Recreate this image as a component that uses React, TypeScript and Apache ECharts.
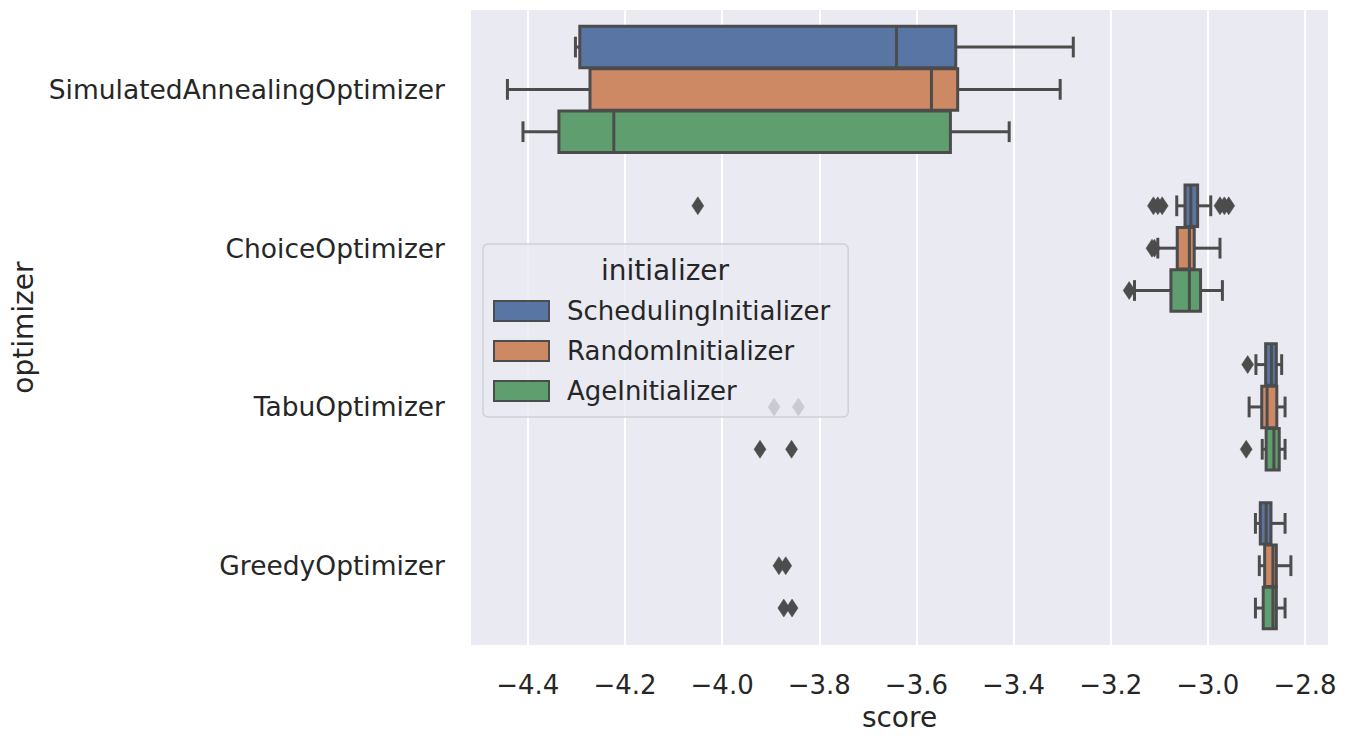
import React, { useEffect, useRef } from "react";
import * as echarts from "echarts";

const categories = ["SimulatedAnnealingOptimizer", "ChoiceOptimizer", "TabuOptimizer", "GreedyOptimizer"];
const hues = ["SchedulingInitializer", "RandomInitializer", "AgeInitializer"];
const hueColors = ["#5975a4", "#cc8963", "#5f9e6e"];
const xTicks = [-4.4, -4.2, -4.0, -3.8, -3.6, -3.4, -3.2, -3.0, -2.8];

// [low whisker, Q1, median, Q3, high whisker] per category
const schedulingBoxes = [
  [-4.302, -4.293, -3.641, -3.519, -3.277],
  [-3.064, -3.047, -3.035, -3.021, -2.994],
  [-2.901, -2.881, -2.869, -2.859, -2.848],
  [-2.902, -2.892, -2.880, -2.870, -2.841],
];
const randomBoxes = [
  [-4.442, -4.272, -3.569, -3.515, -3.304],
  [-3.103, -3.063, -3.038, -3.028, -2.975],
  [-2.915, -2.889, -2.878, -2.858, -2.841],
  [-2.894, -2.883, -2.866, -2.859, -2.829],
];
const ageBoxes = [
  [-4.410, -4.336, -4.223, -3.530, -3.409],
  [-3.151, -3.076, -3.038, -3.015, -2.970],
  [-2.888, -2.880, -2.864, -2.853, -2.841],
  [-2.902, -2.886, -2.866, -2.859, -2.841],
];

// outliers per category
const schedulingOutliers = [
  [],
  [-4.050, -3.112, -3.103, -3.094, -2.975, -2.966, -2.957],
  [-2.918],
  [],
];
const randomOutliers = [
  [],
  [-3.115, -3.110],
  [-3.893, -3.843],
  [-3.883, -3.869],
];
const ageOutliers = [
  [],
  [-3.162],
  [-3.922, -3.857, -2.921],
  [-3.873, -3.856],
];

const allBoxes = [schedulingBoxes, randomBoxes, ageBoxes];
const allOutliers = [schedulingOutliers, randomOutliers, ageOutliers];

const LINE = "#4c4c4c";
const TEXT = "#262626";
const FONT = "DejaVu Sans";

export default function App() {
  const ref = useRef<HTMLDivElement>(null);
  useEffect(() => {
    if (!ref.current) return;
    const chart = echarts.init(ref.current, null, { renderer: "svg" });

    const boxSeries = hues.map((name, h) => ({
      type: "custom",
      name,
      itemStyle: { color: hueColors[h], borderColor: LINE, borderWidth: 1.5 },
      encode: { x: [1, 2, 3, 4, 5], y: 0 },
      data: allBoxes[h].map((b, i) => [i, ...b]),
      z: 2,
      renderItem: (params: any, api: any) => {
        const cat = api.value(0);
        const low = api.value(1), q1 = api.value(2), med = api.value(3), q3 = api.value(4), high = api.value(5);
        const band = api.size([0, 1])[1];
        const slot = (band * 0.8) / 3;
        const bh = slot * 0.98;
        const cy = api.coord([q1, cat])[1] + (h - 1) * slot;
        const xl = api.coord([low, cat])[0];
        const x1 = api.coord([q1, cat])[0];
        const xm = api.coord([med, cat])[0];
        const x3 = api.coord([q3, cat])[0];
        const xh = api.coord([high, cat])[0];
        const cap = bh * 0.25;
        const ls = { stroke: LINE, lineWidth: 3 };
        return {
          type: "group",
          children: [
            { type: "line", shape: { x1: xl, y1: cy, x2: x1, y2: cy }, style: ls },
            { type: "line", shape: { x1: x3, y1: cy, x2: xh, y2: cy }, style: ls },
            { type: "line", shape: { x1: xl, y1: cy - cap, x2: xl, y2: cy + cap }, style: ls },
            { type: "line", shape: { x1: xh, y1: cy - cap, x2: xh, y2: cy + cap }, style: ls },
            {
              type: "rect",
              shape: { x: x1, y: cy - bh / 2, width: x3 - x1, height: bh },
              style: { fill: hueColors[h], stroke: LINE, lineWidth: 3 },
            },
            { type: "line", shape: { x1: xm, y1: cy - bh / 2, x2: xm, y2: cy + bh / 2 }, style: ls },
          ],
        };
      },
    }));

    const outlierSeries = hues.map((name, h) => ({
      type: "custom",
      name: name + " outliers",
      encode: { x: 1, y: 0 },
      data: allOutliers[h].flatMap((arr, i) => arr.map((v) => [i, v])),
      z: 3,
      renderItem: (params: any, api: any) => {
        const cat = api.value(0);
        const v = api.value(1);
        const band = api.size([0, 1])[1];
        const slot = (band * 0.8) / 3;
        const p = api.coord([v, cat]);
        const cx = p[0];
        const cy = p[1] + (h - 1) * slot;
        const w = 6, hh = 9;
        return {
          type: "polygon",
          shape: { points: [[cx, cy - hh], [cx + w, cy], [cx, cy + hh], [cx - w, cy]] },
          style: { fill: LINE, stroke: LINE, lineWidth: 0.5 },
        };
      },
    }));

    chart.setOption({
      animation: false,
      grid: {
        left: 471,
        right: 23,
        top: 10,
        bottom: 87,
        show: true,
        backgroundColor: "#eaeaf2",
        borderWidth: 0,
      },
      xAxis: {
        type: "value",
        min: -4.517,
        max: -2.7526,
        splitNumber: 8,
        axisLine: { show: false },
        axisTick: { show: false, customValues: xTicks },
        axisLabel: {
          customValues: xTicks,
          formatter: (v: number) => v.toFixed(1).replace("-", "\u2212"),
          fontSize: 26,
          color: TEXT,
          fontFamily: FONT,
          margin: 27,
        },
        splitLine: { show: true, lineStyle: { color: "#ffffff", width: 2 } },
        name: "score",
        nameLocation: "middle",
        nameGap: 57,
        nameTextStyle: { fontSize: 28, color: TEXT, fontFamily: FONT },
      },
      yAxis: {
        type: "category",
        data: categories,
        inverse: true,
        axisLine: { show: false },
        axisTick: { show: false },
        splitLine: { show: false },
        axisLabel: { fontSize: 26.5, color: TEXT, fontFamily: FONT, margin: 26 },
        name: "optimizer",
        nameLocation: "middle",
        nameGap: 433,
        nameRotate: 90,
        nameTextStyle: { fontSize: 28, color: TEXT, fontFamily: FONT },
      },
      legend: {
        data: hues,
        orient: "vertical",
        left: 483,
        top: 244,
        padding: [54, 18, 13, 10],
        itemWidth: 55,
        itemHeight: 20,
        itemGap: 14,
        icon: "rect",
        selectedMode: false,
        backgroundColor: "rgba(234,234,242,0.8)",
        borderColor: "#cfcfd6",
        borderWidth: 1.5,
        borderRadius: 5,
        textStyle: { fontSize: 26, color: TEXT, fontFamily: FONT, padding: [0, 0, 0, 13] },
        z: 10,
      },
      graphic: [
        {
          type: "text",
          x: 665,
          y: 270,
          z: 100,
          style: {
            text: "initializer",
            fontSize: 28,
            fill: TEXT,
            fontFamily: FONT,
            textAlign: "center",
            textVerticalAlign: "middle",
          },
        },
      ],
      series: [...boxSeries, ...outlierSeries],
    });
    return () => chart.dispose();
  }, []);
  return (
    <div
      ref={ref}
      style={{ position: "fixed", left: 0, top: 0, width: 1351, height: 736, background: "#ffffff" }}
    />
  );
}
